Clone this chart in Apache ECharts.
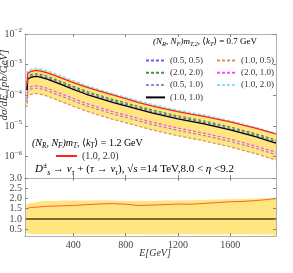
<!DOCTYPE html>
<html><head><meta charset="utf-8">
<script src="https://cdn.jsdelivr.net/npm/echarts@6/dist/echarts.min.js"></script>
<style>html,body{margin:0;padding:0;background:#fff}#c{width:293px;height:273px}</style>
</head><body><div id="c"></div>
<script>
// Energy bins (GeV)
const E = [30,47,50,70,100,130,160,200,250,300,400,500,600,700,800,900,1000,1100,1200,1300,1400,1500,1600,1700,1800,1900,1950];
// dσ/dE [pb/GeV], (N_R,N_F) mT2, <kT>=0.7 GeV
const s_10_10 = [1.57e-4,1.57e-4,3.35e-4,3.75e-4,4.04e-4,4.04e-4,3.75e-4,3.35e-4,2.77e-4,2.30e-4,1.57e-4,1.08e-4,7.97e-5,5.89e-5,4.53e-5,3.48e-5,2.67e-5,2.13e-5,1.70e-5,1.41e-5,1.16e-5,9.27e-6,7.39e-6,5.68e-6,4.36e-6,3.22e-6,2.77e-6];
const s_10_20 = [2.75e-4,2.75e-4,6.03e-4,6.75e-4,7.35e-4,7.47e-4,6.94e-4,6.26e-4,5.21e-4,4.37e-4,2.98e-4,2.05e-4,1.51e-4,1.12e-4,8.56e-5,6.54e-5,5.02e-5,4.03e-5,3.23e-5,2.71e-5,2.24e-5,1.81e-5,1.45e-5,1.12e-5,8.72e-6,6.54e-6,5.68e-6];
const s_20_20 = [1.96e-4,1.96e-4,4.19e-4,4.69e-4,5.05e-4,5.05e-4,4.69e-4,4.19e-4,3.46e-4,2.88e-4,1.96e-4,1.35e-4,9.96e-5,7.36e-5,5.66e-5,4.35e-5,3.34e-5,2.66e-5,2.13e-5,1.76e-5,1.45e-5,1.16e-5,9.24e-6,7.10e-6,5.45e-6,4.03e-6,3.46e-6];
const s_05_05 = [1.76e-4,1.76e-4,3.75e-4,4.20e-4,4.52e-4,4.52e-4,4.20e-4,3.75e-4,3.10e-4,2.58e-4,1.76e-4,1.21e-4,8.93e-5,6.60e-5,5.07e-5,3.90e-5,2.99e-5,2.39e-5,1.90e-5,1.58e-5,1.30e-5,1.04e-5,8.28e-6,6.36e-6,4.88e-6,3.61e-6,3.10e-6];
const s_20_10 = [7.85e-5,7.85e-5,1.68e-4,1.88e-4,2.02e-4,2.02e-4,1.88e-4,1.68e-4,1.39e-4,1.15e-4,7.85e-5,5.40e-5,3.99e-5,2.95e-5,2.27e-5,1.74e-5,1.34e-5,1.07e-5,8.50e-6,7.05e-6,5.80e-6,4.64e-6,3.70e-6,2.84e-6,2.18e-6,1.61e-6,1.39e-6];
const s_05_10 = [6.59e-5,6.59e-5,1.41e-4,1.58e-4,1.70e-4,1.70e-4,1.58e-4,1.41e-4,1.16e-4,9.66e-5,6.59e-5,4.54e-5,3.35e-5,2.47e-5,1.90e-5,1.46e-5,1.12e-5,8.95e-6,7.14e-6,5.92e-6,4.87e-6,3.89e-6,3.10e-6,2.39e-6,1.83e-6,1.35e-6,1.16e-6];
const s_10_05 = [4.40e-5,4.40e-5,9.38e-5,1.05e-4,1.13e-4,1.13e-4,1.05e-4,9.38e-5,7.76e-5,6.44e-5,4.40e-5,3.02e-5,2.23e-5,1.65e-5,1.27e-5,9.74e-6,7.48e-6,5.96e-6,4.76e-6,3.95e-6,3.25e-6,2.60e-6,2.07e-6,1.59e-6,1.22e-6,9.00e-7,7.76e-7];
// (N_R,N_F) mT, <kT>=1.2 GeV
const s12_10_20 = [2.36e-4,2.36e-4,5.19e-4,5.85e-4,6.34e-4,6.38e-4,6.00e-4,5.43e-4,4.52e-4,3.77e-4,2.61e-4,1.84e-4,1.38e-4,1.03e-4,7.79e-5,5.78e-5,4.49e-5,3.62e-5,2.94e-5,2.43e-5,2.04e-5,1.67e-5,1.36e-5,1.06e-5,8.28e-6,6.31e-6,5.54e-6];
// ratio panel
const ratioBandTop = [1.72,1.72,1.76,1.78,1.80,1.84,1.86,1.88,1.88,1.90,1.90,1.90,1.92,1.90,1.88,1.89,1.88,1.90,1.90,1.92,1.93,1.95,1.96,1.98,2.00,2.03,2.05];
const ratioBandBot = [0.30,0.30,0.28,0.27,0.27,0.26,0.26,0.25,0.25,0.25,0.25,0.24,0.24,0.24,0.25,0.25,0.24,0.24,0.25,0.25,0.24,0.24,0.25,0.25,0.24,0.24,0.24];
const ratioRed = [1.50,1.50,1.55,1.56,1.57,1.58,1.60,1.62,1.63,1.64,1.66,1.70,1.73,1.75,1.72,1.66,1.68,1.70,1.73,1.72,1.76,1.80,1.84,1.86,1.90,1.96,2.00];
const ratioRef = 1.0;
const xTicks = [400,800,1200,1600];
const yTicksTop = [1e-6,1e-5,1e-4,1e-3,1e-2];
const yTicksBot = [0.5,1.0,1.5,2.0,2.5,3.0];

const pairs = a => E.map((e,i)=>[e,a[i]]);
const SERIF = '"Liberation Serif","DejaVu Serif",serif';
const FRAME = '#b0b0b0';
const YEL = '#ffe680';

function mkX(grid, pos, labels){
  return {type:'value', gridIndex:grid, position:pos, min:30, max:1950, z:10,
    axisLine:{show:true,lineStyle:{color:FRAME,width:1}},
    axisTick:{show:true,inside:true,length:3,customValues:xTicks,lineStyle:{color:'#888'}},
    axisLabel:{show:labels,customValues:xTicks,margin:4,color:'#444',fontFamily:SERIF,fontSize:10,
      formatter:v=>String(v)},
    splitLine:{show:false}};
}
function mkYlog(pos, labels){
  return {type:'log', gridIndex:0, position:pos, min:2e-7, max:1e-2, z:10,
    axisLine:{show:true,lineStyle:{color:FRAME}},
    axisTick:{show:true,inside:true,length:3,customValues:yTicksTop,lineStyle:{color:'#888'}},
    axisLabel:{show:labels,customValues:yTicksTop,margin:3,color:'#444',fontFamily:SERIF,fontSize:10,
      formatter:v=>'10{s|−'+Math.round(-Math.log10(v))+'}',
      rich:{s:{fontSize:7,fontFamily:SERIF,color:'#444',padding:[0,0,7,0]}}},
    splitLine:{show:false}};
}
function mkYlin(pos, labels){
  return {type:'value', gridIndex:1, position:pos, min:0.17, max:3.0, z:10,
    axisLine:{show:true,lineStyle:{color:FRAME}},
    axisTick:{show:true,inside:true,length:3,customValues:yTicksBot,lineStyle:{color:'#888'}},
    axisLabel:{show:labels,customValues:yTicksBot,margin:3,color:'#444',fontFamily:SERIF,fontSize:10,
      formatter:v=>v.toFixed(1)},
    splitLine:{show:false}};
}
function line(name,data,color,dash,width,xi,yi,z){
  return {type:'line',name,data:pairs(data),xAxisIndex:xi,yAxisIndex:yi,symbol:'none',
    lineStyle:{color,width,type:dash?[3,2]:'solid'},itemStyle:{color},z:z||3,silent:true,animation:false};
}
function area(data,color,xi,yi){
  return {type:'line',data:pairs(data),xAxisIndex:xi,yAxisIndex:yi,symbol:'none',
    lineStyle:{width:0},areaStyle:{color,opacity:1,origin:'start'},z:1,silent:true,animation:false};
}
const legTxt = {fontFamily:SERIF,fontSize:9,color:'#333',lineHeight:9};
const legCommon = {orient:'vertical',itemWidth:19,itemHeight:9,itemGap:3.3,selectedMode:false,
  textStyle:legTxt,itemStyle:{opacity:0},z:20};
const mk = (fs)=>({
  it:{fontSize:fs,fontFamily:SERIF,fontStyle:'italic',color:'#333'},
  rm:{fontSize:fs,fontFamily:SERIF,color:'#333'},
  sub:{fontSize:fs*0.72,fontFamily:SERIF,fontStyle:'italic',color:'#333',padding:[fs*0.55,0,0,0]},
  sup:{fontSize:fs*0.72,fontFamily:SERIF,color:'#333',padding:[0,0,fs*0.65,0]}
});

const option = {
  animation:false,
  grid:[{left:25,top:34,right:17,height:144},{left:25,top:178,right:17,height:58}],
  xAxis:[mkX(0,'bottom',false),mkX(0,'top',false),mkX(1,'bottom',true),mkX(1,'top',false)],
  yAxis:[mkYlog('left',true),mkYlog('right',false),mkYlin('left',true),mkYlin('right',false)],
  legend:[
    Object.assign({data:['(0.5, 0.5)','(2.0, 2.0)','(0.5, 1.0)','(1.0, 1.0)'],left:140,top:51},legCommon),
    Object.assign({data:['(1.0, 0.5)','(2.0, 1.0)','(1.0, 2.0)'],left:211,top:51},legCommon),
    Object.assign({},legCommon,{data:['(1.0, 2.0) '],left:50,top:146,itemWidth:21,
      textStyle:{fontFamily:SERIF,fontSize:10,color:'#333',lineHeight:10}})
  ],
  series:[
    area(s_10_20,YEL,0,0),
    area(s_10_05,'#ffffff',0,0),
    line('(1.0, 0.5)',s_10_05,'#d09060',true,1.2,0,0),
    line('(0.5, 1.0)',s_05_10,'#9a88d0',true,1.2,0,0),
    line('(2.0, 1.0)',s_20_10,'#ff44ff',true,1.2,0,0),
    line('(1.0, 1.0)',s_10_10,'#000000',false,1.3,0,0,4),
    line('(0.5, 0.5)',s_05_05,'#6060ff',true,1.2,0,0),
    line('(2.0, 2.0)',s_20_20,'#3a9a3a',true,1.2,0,0),
    line('(1.0, 2.0)',s_10_20,'#88e0ff',true,1.8,0,0),
    line('(1.0, 2.0) ',s12_10_20,'#ff2020',false,1.3,0,0,4),
    area(ratioBandTop,YEL,2,2),
    area(ratioBandBot,'#ffffff',2,2),
    Object.assign(line('ratio',ratioRed,'#ff6030',false,1,2,2),{
      markLine:{silent:true,symbol:'none',label:{show:false},
        lineStyle:{color:'#7a6a2a',width:2,type:'solid'},data:[{yAxis:ratioRef}]}})
  ],
  graphic:{elements:[
    {type:'text',left:153,top:37,z:100,style:{rich:mk(9),
      text:'{it|(N}{sub|R}{rm|, }{it|N}{sub|F}{it|)m}{sub|T,2}{rm|, ⟨}{it|k}{sub|T}{rm|⟩ = 0.7 GeV}'}},
    {type:'text',left:32,top:138,z:100,style:{rich:mk(10),
      text:'{it|(N}{sub|R}{rm|, }{it|N}{sub|F}{it|)m}{sub|T}{rm|, ⟨}{it|k}{sub|T}{rm|⟩ = 1.2 GeV}'}},
    {type:'text',left:35,top:162,z:100,style:{rich:mk(11),
      text:'{it|D}{sup|±}{sub|s}{rm| → }{it|ν}{sub|τ}{rm| + (}{it|τ}{rm| → }{it|ν}{sub|τ}{rm|), √}{it|s}{rm| =14 TeV,8.0 < }{it|η}{rm| <9.2}'}},
    {type:'text',x:4,y:85,z:100,rotation:Math.PI/2,style:{text:'dσ/dE [pb/GeV]',font:'italic 11px '+SERIF,fill:'#333',
      textAlign:'center',textVerticalAlign:'middle'}},
    {type:'text',x:155,y:253,z:100,style:{text:'E[GeV]',font:'italic 10px '+SERIF,fill:'#333',
      textAlign:'center',textVerticalAlign:'middle'}}
  ]}
};
const chart = echarts.init(document.getElementById('c'),null,{renderer:'canvas'});
chart.setOption(option);
</script></body></html>
